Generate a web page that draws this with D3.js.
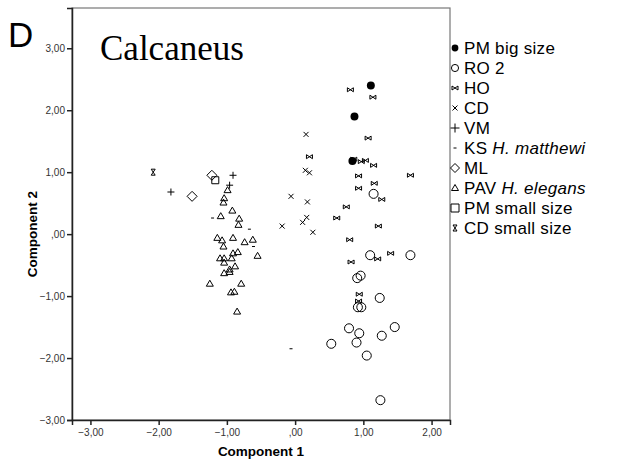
<!DOCTYPE html>
<html>
<head>
<meta charset="utf-8">
<script src="https://cdn.jsdelivr.net/npm/d3@7"></script>
<style>
  body { margin: 0; background: #fff; }
  text { font-family: Arial, "Liberation Sans", sans-serif; }
</style>
</head>
<body>
<div id="chart"></div>
<script>
// groups, in legend order
const groups = ['PM big size', 'RO 2', 'HO', 'CD', 'VM', 'KS H. matthewi', 'ML', 'PAV H. elegans', 'PM small size', 'CD small size'];
const xTicks = [-3, -2, -1, 0, 1, 2];
const yTicks = [-3, -2, -1, 0, 1, 2, 3];

// [component 1, component 2]
const pmBig = [[1.11, 2.40], [0.87, 1.90], [0.84, 1.18]];
const ro2 = [[1.15, 0.65], [1.10, -0.34], [1.69, -0.34], [0.96, -0.67], [0.91, -0.71], [1.24, -1.03],
  [0.92, -1.18], [0.97, -1.18], [1.46, -1.50], [0.79, -1.52], [0.94, -1.60], [1.27, -1.64],
  [0.53, -1.77], [0.90, -1.75], [1.05, -1.96], [1.25, -2.68]];
const ho = [[0.81, 2.33], [1.14, 2.21], [1.07, 1.55], [0.21, 1.25], [0.86, 1.21], [0.97, 1.17],
  [1.03, 1.19], [1.15, 1.11], [0.93, 0.94], [1.69, 0.95], [1.16, 0.82], [0.93, 0.74], [0.75, 0.44],
  [1.27, 0.56], [0.61, 0.26], [1.22, 0.13], [0.80, -0.09], [1.40, -0.31], [1.21, -0.40],
  [0.82, -0.45], [0.94, -0.97], [0.93, -1.08]];
const cd = [[0.16, 1.61], [0.15, 1.03], [0.21, 0.99], [-0.06, 0.61], [0.18, 0.52], [0.17, 0.27],
  [0.11, 0.19], [-0.19, 0.13], [0.26, 0.03]];
const vm = [[-1.82, 0.68], [-0.91, 0.95], [-0.96, 0.79]];
const ks = [[-1.21, 0.26], [-0.67, 0.08], [-0.61, -0.20], [-0.06, -1.85]];
const ml = [[-1.51, 0.61], [-1.22, 0.95]];
const pav = [[-0.99, 0.71], [-1.04, 0.58], [-1.05, 0.51], [-0.92, 0.38], [-1.09, 0.29], [-0.82, 0.25],
  [-0.83, 0.15], [-1.14, -0.06], [-1.07, -0.10], [-0.91, -0.06], [-0.74, -0.13], [-0.62, -0.09],
  [-1.05, -0.20], [-0.91, -0.31], [-0.84, -0.29], [-1.10, -0.39], [-1.04, -0.39], [-0.93, -0.39],
  [-0.55, -0.35], [-1.04, -0.46], [-0.88, -0.52], [-0.96, -0.57], [-0.96, -0.61], [-1.04, -0.63],
  [-1.25, -0.80], [-0.79, -0.80], [-0.94, -0.94], [-0.89, -0.93], [-0.85, -1.25]];
const pmSmall = [[-1.17, 0.87]];
const cdSmall = [[-2.08, 1.00]];

const series = [pmBig, ro2, ho, cd, vm, ks, ml, pav, pmSmall, cdSmall];

const width = 617, height = 461;
const margin = {top: 8, right: 167, bottom: 41, left: 72};
const w = width - margin.left - margin.right;
const h = height - margin.top - margin.bottom;

const x = d3.scaleLinear().domain([-3.27, 2.27]).range([0, w]);
const y = d3.scaleLinear().domain([-3, 3.65]).range([h, 0]);

const fmt = d => d === 0 ? ',00' : d3.format('.2f')(d).replace('.', ',');

// marker paths, centred on 0,0
const markers = [
  {path: d3.symbol(d3.symbolCircle, 50)(), fill: '#000', stroke: 'none'},
  {path: d3.symbol(d3.symbolCircle, 64)(), fill: 'none', stroke: '#000'},
  {path: 'M-3,-2L3,2L3,-2L-3,2Z', fill: 'none', stroke: '#000'},
  {path: 'M-2.5,-2.5L2.5,2.5M-2.5,2.5L2.5,-2.5', fill: 'none', stroke: '#000'},
  {path: 'M-3.5,0H3.5M0,-3.5V3.5', fill: 'none', stroke: '#000'},
  {path: 'M-1.5,0H1.5', fill: 'none', stroke: '#000'},
  {path: 'M0,-5L5,0L0,5L-5,0Z', fill: 'none', stroke: '#000'},
  {path: 'M0,-3.5L3.5,2.5H-3.5Z', fill: 'none', stroke: '#000'},
  {path: 'M-3.5,-3.5H3.5V3.5H-3.5Z', fill: 'none', stroke: '#000'},
  {path: 'M-2,-3H2L-2,3H2Z', fill: 'none', stroke: '#000'}
];
const legendMarkers = [
  {path: d3.symbol(d3.symbolCircle, 36)(), fill: '#000', stroke: 'none'},
  {path: d3.symbol(d3.symbolCircle, 40)(), fill: 'none', stroke: '#000'},
  {path: 'M-3,-2L3,2L3,-2L-3,2Z', fill: 'none', stroke: '#000'},
  {path: 'M-2.5,-2.5L2.5,2.5M-2.5,2.5L2.5,-2.5', fill: 'none', stroke: '#000'},
  {path: 'M-4.5,0H4.5M0,-4.5V4.5', fill: 'none', stroke: '#000'},
  {path: 'M-1.5,0H1.5', fill: 'none', stroke: '#000'},
  {path: 'M0,-4.5L4.5,0L0,4.5L-4.5,0Z', fill: 'none', stroke: '#000'},
  {path: 'M0,-3.5L3.5,2.5H-3.5Z', fill: 'none', stroke: '#000'},
  {path: 'M-4,-4H4V4H-4Z', fill: 'none', stroke: '#000'},
  {path: 'M-2,-3H2L-2,3H2Z', fill: 'none', stroke: '#000'}
];

const svg = d3.select('#chart').append('svg')
  .attr('width', width)
  .attr('height', height);

const g = svg.append('g')
  .attr('transform', `translate(${margin.left},${margin.top})`);

// frame
g.append('rect')
  .attr('x', 0).attr('y', 0)
  .attr('width', w).attr('height', h)
  .attr('fill', 'none')
  .attr('stroke', '#777')
  .attr('stroke-width', 1.2);

const xAxis = g.append('g')
  .attr('transform', `translate(0,${h})`)
  .call(d3.axisBottom(x).tickValues(xTicks).tickFormat(fmt).tickSize(5).tickPadding(4));
const yAxis = g.append('g')
  .call(d3.axisLeft(y).tickValues(yTicks).tickFormat(fmt).tickSize(5).tickPadding(2));

[xAxis, yAxis].forEach(a => {
  a.select('.domain').attr('stroke', '#222').attr('stroke-width', 1.5);
  a.selectAll('.tick line').attr('stroke', '#222').attr('stroke-width', 1.5);
  a.selectAll('.tick text').attr('fill', '#333').style('font-size', '10px');
});

// points
series.forEach((pts, i) => {
  const m = markers[i];
  g.append('g').selectAll('path')
    .data(pts)
    .enter().append('path')
      .attr('d', m.path)
      .attr('transform', d => `translate(${x(d[0])},${y(d[1])})`)
      .attr('fill', m.fill)
      .attr('stroke', m.stroke)
      .attr('stroke-width', 1);
});

// titles
svg.append('text')
  .attr('x', 8).attr('y', 47)
  .style('font-size', '35px')
  .text('D');

g.append('text')
  .attr('x', 28).attr('y', 52)
  .style('font-family', '"Liberation Serif", "Times New Roman", serif')
  .style('font-size', '35px')
  .text('Calcaneus');

svg.append('text')
  .attr('x', margin.left + w / 2).attr('y', 456)
  .attr('text-anchor', 'middle')
  .style('font-size', '13.5px')
  .style('font-weight', 'bold')
  .text('Component 1');

svg.append('text')
  .attr('transform', `translate(37,${margin.top + h / 2 + 20}) rotate(-90)`)
  .attr('text-anchor', 'middle')
  .style('font-size', '13.5px')
  .style('font-weight', 'bold')
  .text('Component 2');

// legend
const legend = svg.append('g')
  .attr('transform', 'translate(455,48)');

const row = legend.selectAll('g')
  .data(groups)
  .enter().append('g')
    .attr('transform', (d, i) => `translate(0,${i * 20})`);

row.append('path')
  .attr('d', (d, i) => legendMarkers[i].path)
  .attr('fill', (d, i) => legendMarkers[i].fill)
  .attr('stroke', (d, i) => legendMarkers[i].stroke)
  .attr('stroke-width', 1);

const label = row.append('text')
  .attr('x', 9).attr('y', 6)
  .style('font-size', '17px')
  .style('letter-spacing', '0.3px');

label.each(function(d) {
  const t = d3.select(this);
  const m = d.match(/^(\S+) (H\. .+)$/);
  if (m) {
    t.append('tspan').text(m[1] + ' ');
    t.append('tspan').style('font-style', 'italic').text(m[2]);
  } else {
    t.text(d);
  }
});
</script>
</body>
</html>
